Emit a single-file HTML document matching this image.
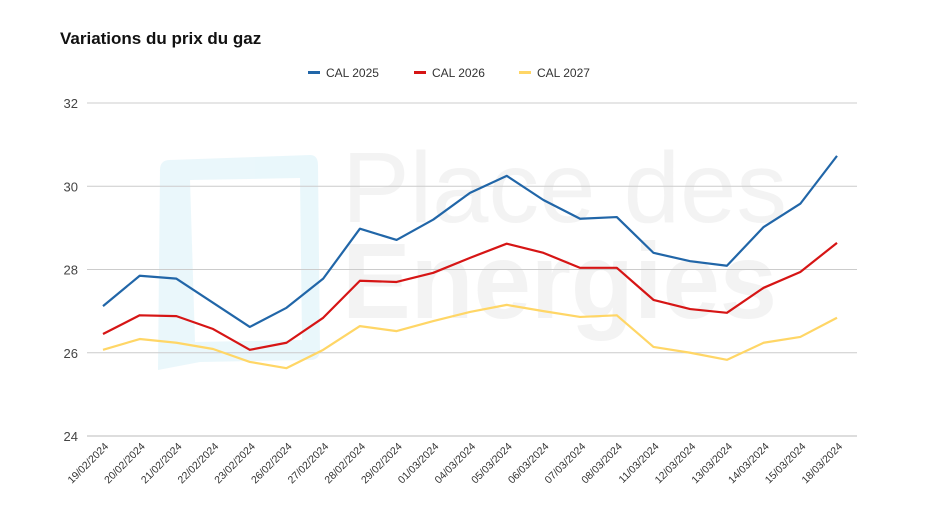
<!DOCTYPE html>
<html><head><meta charset="utf-8"><style>
body{margin:0;background:#fff;}
svg{display:block;font-family:"Liberation Sans",sans-serif;}
</style></head><body>
<svg id="chart" width="936" height="526">
<rect width="936" height="526" fill="#fff"/>
<g opacity="0.5">
<path d="M170 160 L310 155 Q318 155 318 165 L320 350 Q320 360 310 360 L200 362 L158 370 L160 170 Q160 160 170 160 Z M190 180 L300 178 L302 340 L195 342 Z" fill="#d5f0f8" fill-rule="evenodd"/>
<text x="342" y="222" font-size="100" fill="#e8e8e8" textLength="445" lengthAdjust="spacingAndGlyphs">Place des</text>
<text x="342" y="318" font-size="108" font-weight="bold" fill="#e8e8e8" textLength="435" lengthAdjust="spacingAndGlyphs">Energies</text>
</g>
<text x="60" y="44" font-size="17" font-weight="bold" fill="#111">Variations du prix du gaz</text>
<g id="legend"></g>
<g id="grid"></g>
<g id="series"></g>
<g id="xlabels"></g>
</svg>
<script>
const categories=["19/02/2024","20/02/2024","21/02/2024","22/02/2024","23/02/2024","26/02/2024","27/02/2024","28/02/2024","29/02/2024","01/03/2024","04/03/2024","05/03/2024","06/03/2024","07/03/2024","08/03/2024","11/03/2024","12/03/2024","13/03/2024","14/03/2024","15/03/2024","18/03/2024"];
const cal2025=[27.12,27.85,27.78,27.2,26.62,27.08,27.78,28.98,28.71,29.2,29.84,30.25,29.67,29.22,29.26,28.4,28.2,28.09,29.02,29.58,30.73];
const cal2026=[26.45,26.9,26.88,26.57,26.07,26.24,26.84,27.73,27.7,27.92,28.28,28.62,28.4,28.04,28.04,27.27,27.05,26.96,27.56,27.94,28.64];
const cal2027=[26.07,26.33,26.24,26.09,25.78,25.63,26.07,26.64,26.52,26.76,26.98,27.15,27.0,26.86,26.9,26.14,26.0,25.83,26.24,26.38,26.84];
const yTicks=[24,26,28,30,32];
const seriesNames=["CAL 2025","CAL 2026","CAL 2027"];
const NS="http://www.w3.org/2000/svg";
const x0=103,x1=837,yB=436,yT=103;
const xs=i=>x0+i*(x1-x0)/(categories.length-1);
const ys=v=>yB-(v-24)/(32-24)*(yB-yT);
function mk(t,a,p){const e=document.createElementNS(NS,t);for(const k in a)e.setAttribute(k,a[k]);p.appendChild(e);return e;}
const grid=document.getElementById('grid');
yTicks.forEach(t=>{
 const l=mk('line',{x1:87,x2:857,y1:ys(t),y2:ys(t),stroke:t===24?'#bbb':'#ccc','stroke-width':1},grid);
 
 
 const tx=mk('text',{x:78,y:ys(t)+5,'text-anchor':'end','font-size':13,fill:'#444'},grid);
 tx.textContent=t;
 
 
});
const colors=["#2166a8","#d61515","#ffd666"];
const data=[cal2025,cal2026,cal2027];
const sg=document.getElementById('series');
[2,1,0].forEach(s=>{
 const p=mk('polyline',{points:data[s].map((v,i)=>xs(i)+','+ys(v)).join(' '),fill:'none',stroke:colors[s],'stroke-width':2.2,'stroke-linejoin':'round'},sg);
 
 
});
const xl=document.getElementById('xlabels');
categories.forEach((c,i)=>{
 const t=mk('text',{x:xs(i)+6,y:447,'text-anchor':'end','font-size':10.5,fill:'#333',transform:`rotate(-45 ${xs(i)+6} 447)`},xl);
 t.textContent=c;
 
 
});
const lg=document.getElementById('legend');
const lx=[308,414,519];
seriesNames.forEach((n,i)=>{
 const g=mk('g',{},lg);
 
 
 mk('rect',{x:lx[i],y:71,width:12,height:3,fill:colors[i]},g);
 const t=mk('text',{x:lx[i]+18,y:77,'font-size':12,fill:'#333'},g);
 t.textContent=n;
});
</script>
</body></html>
